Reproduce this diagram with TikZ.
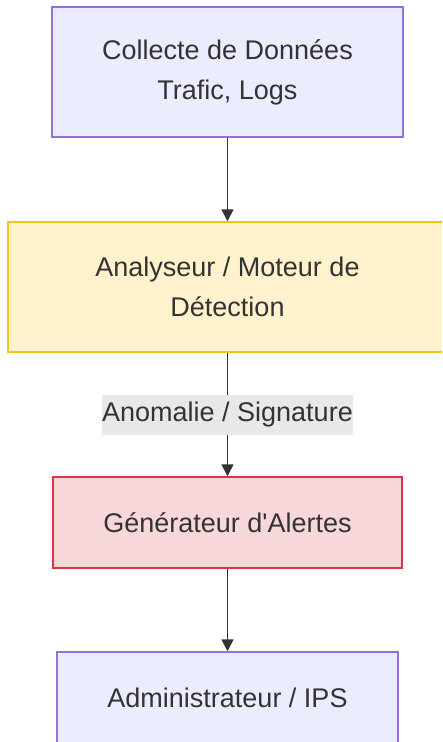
\documentclass[tikz,border=0pt]{standalone}
\usepackage{fontspec}
\setmainfont{Liberation Sans}[Ligatures=TeXOff]
\usetikzlibrary{arrows.meta}
\definecolor{txtgray}{HTML}{333333}
\definecolor{lilacfill}{HTML}{ECECFF}
\definecolor{lilacline}{HTML}{9370DB}
\definecolor{yellowfill}{HTML}{FFF2CC}
\definecolor{yellowline}{HTML}{F5C218}
\definecolor{redfill}{HTML}{F8D7DA}
\definecolor{redline}{HTML}{DC3545}
\definecolor{labelgray}{HTML}{E8E8E8}
\begin{document}
\begin{tikzpicture}[x=1pt,y=1pt,
    box/.style={draw,line width=1.5pt,align=center,text=txtgray,inner sep=0pt,
      font=\fontsize{27}{40}\selectfont},
    flow/.style={line width=1.6pt,draw=txtgray,-{Triangle[length=12pt,width=12pt]}},
    tag/.style={fill=labelgray,text=txtgray,inner sep=0pt,minimum width=251pt,
      minimum height=40pt,font=\fontsize{27}{40}\selectfont}]

    \useasboundingbox (0,0) rectangle (442,-742);
    \clip (0,0) rectangle (442,-742);

    \node[box,fill=lilacfill,draw=lilacline,minimum width=351pt,minimum height=130pt]
        (collecte) at (227.5,-72) {Collecte de Données\\Trafic, Logs};
    \node[box,fill=yellowfill,draw=yellowline,minimum width=439pt,minimum height=130pt]
        (analyseur) at (227.5,-287) {Analyseur / Moteur de\\Détection};
    \node[box,fill=redfill,draw=redline,minimum width=349pt,minimum height=91pt]
        (generateur) at (227.5,-522.5) {Générateur d'Alertes};
    \node[box,fill=lilacfill,draw=lilacline,minimum width=341pt,minimum height=91pt]
        (admin) at (227.5,-697.5) {Administrateur / IPS};

    \draw[flow] (collecte) -- (analyseur);
    \draw[flow] (analyseur) -- (generateur) node[tag,midway]{Anomalie / Signature};
    \draw[flow] (generateur) -- (admin);
\end{tikzpicture}
\end{document}
